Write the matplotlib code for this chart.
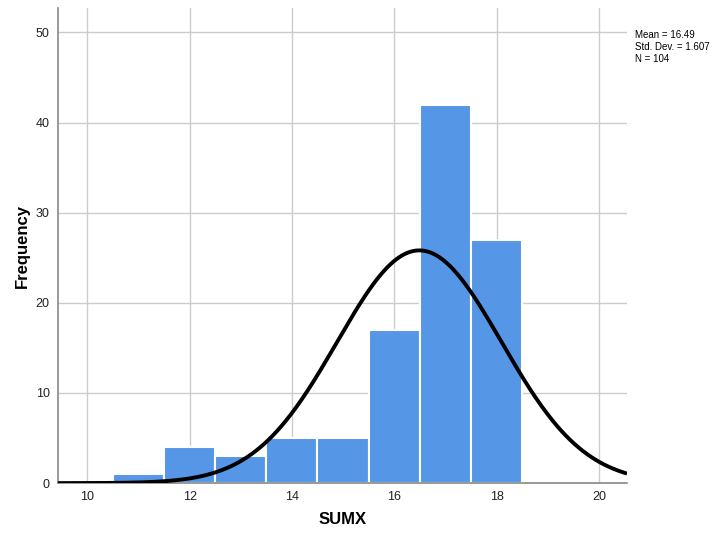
import numpy as np
import matplotlib.pyplot as plt

plt.rcParams['font.family'] = ['Liberation Sans', 'DejaVu Sans']

centers = [11, 12, 13, 14, 15, 16, 17, 18]
counts = [1, 4, 3, 5, 5, 17, 42, 27]
mean, sd, n = 16.49, 1.607, 104

fig = plt.figure(figsize=(7.17, 5.38), dpi=100)
ax = fig.add_axes([0.081, 0.102, 0.7935, 0.883])

ax.bar(centers, counts, width=1.0, color='#5596E6', edgecolor='white', linewidth=1.5, zorder=2)

xs = np.linspace(9.43, 20.55, 400)
ys = n * 1.0 / (sd * np.sqrt(2 * np.pi)) * np.exp(-0.5 * ((xs - mean) / sd) ** 2)
ax.plot(xs, ys, color='black', linewidth=2.8, zorder=3, solid_capstyle='butt')

ax.set_xlim(9.43, 20.55)
ax.set_ylim(0, 52.7)
ax.set_xticks([10, 12, 14, 16, 18, 20])
ax.set_yticks([0, 10, 20, 30, 40, 50])
ax.tick_params(length=0, labelsize=9, colors='#222222', pad=6)
ax.grid(True, color='#cccccc', linewidth=1, zorder=0)
ax.set_axisbelow(True)
for s in ['top', 'right']:
    ax.spines[s].set_visible(False)
for s in ['left', 'bottom']:
    ax.spines[s].set_color('#888888')
    ax.spines[s].set_linewidth(1.2)

ax.set_xlabel('SUMX', fontsize=12, fontweight='bold', labelpad=6)
ax.set_ylabel('Frequency', fontsize=12, fontweight='bold', labelpad=4)

fig.text(0.885, 0.945, 'Mean = 16.49\nStd. Dev. = 1.607\nN = 104', fontsize=7,
         va='top', ha='left', linespacing=1.3)

fig.savefig('out.png', dpi=100)
